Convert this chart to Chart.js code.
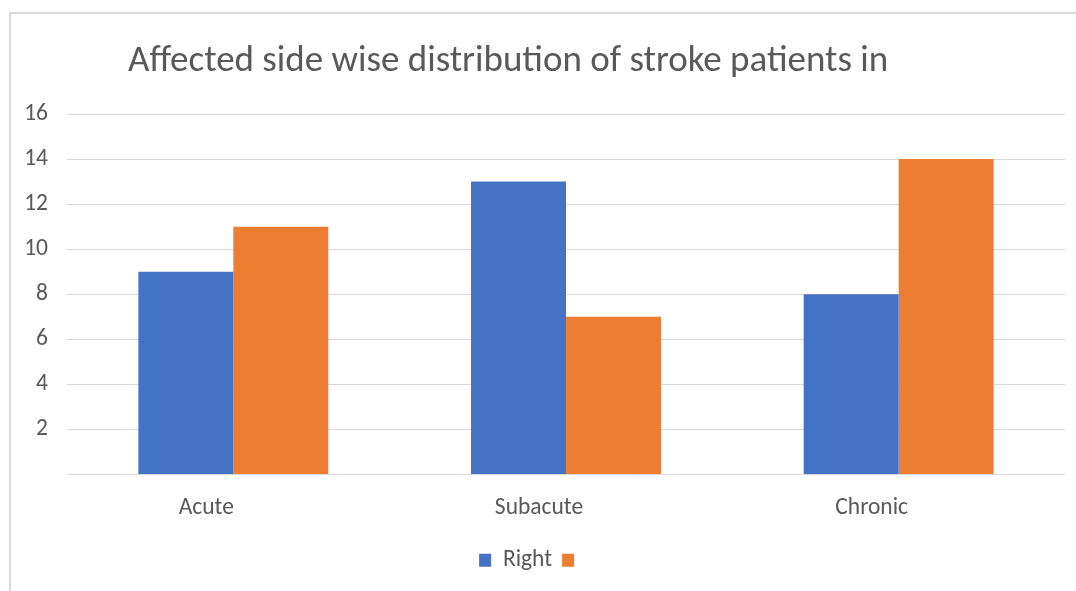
<!DOCTYPE html>
<html>
<head>
<meta charset="utf-8">
<script src="https://cdn.jsdelivr.net/npm/chart.js"></script>
<style>
  body { margin: 0; background: #fff; }
  #frame { position: absolute; left: 9px; top: 12px; width: 1100px; height: 600px; border-left: 2px solid #d9d9d9; border-top: 2px solid #d9d9d9; }
  #wrap { position: absolute; left: 0; top: 0; width: 1076px; height: 591px; }
</style>
</head>
<body>
<div id="frame"></div>
<div id="wrap"><canvas id="myChart" width="1076" height="591"></canvas></div>
<script>
const titleText = 'Affected side wise distribution of stroke patients in'
const categories = ['Acute', 'Subacute', 'Chronic']
const rightValues = [9, 13, 8]
const otherValues = [11, 7, 14]
const seriesNames = ['Right', '']
const barColors = ['#4472C4', '#ED7D31']

const fontFamily = 'Carlito, Calibri, Lato, sans-serif'
const textColor = '#595959'
const gridColor = '#d9d9d9'
const labelSize = 23.5

// title sits left of centre in the original, so draw it by hand
const titlePlugin = {
    id: 'leftTitle',
    afterDraw(chart) {
        const ctx = chart.ctx
        ctx.save()
        ctx.font = '37px ' + fontFamily
        ctx.fillStyle = textColor
        ctx.textBaseline = 'alphabetic'
        ctx.fillText(titleText, 128, 71)
        ctx.restore()
    }
}

new Chart('myChart', {
    type: 'bar',
    data: {
        labels: categories,
        datasets: [{
            label: seriesNames[0],
            data: rightValues,
            backgroundColor: barColors[0]
        }, {
            label: seriesNames[1],
            data: otherValues,
            backgroundColor: barColors[1]
        }]
    },
    options: {
        responsive: false,
        animation: false,
        layout: { padding: { left: 0, right: 11, top: 114, bottom: 9 } },
        datasets: {
            bar: { categoryPercentage: 0.571, barPercentage: 1 }
        },
        scales: {
            x: {
                grid: { display: false },
                border: { display: false },
                ticks: {
                    color: textColor,
                    font: { family: fontFamily, size: labelSize },
                    padding: 12,
                    labelOffset: -27
                },
                afterFit(scale) { scale.height = 64 }
            },
            y: {
                min: 0,
                max: 16,
                grid: { color: gridColor, lineWidth: 1, drawTicks: false },
                border: { display: false },
                ticks: {
                    stepSize: 2,
                    color: textColor,
                    font: { family: fontFamily, size: labelSize },
                    padding: 19,
                    callback: v => v === 0 ? '' : v
                },
                afterFit(scale) { scale.width = 67 }
            }
        },
        plugins: {
            title: { display: false },
            tooltip: { enabled: false },
            legend: {
                position: 'bottom',
                labels: {
                    color: textColor,
                    font: { family: fontFamily, size: labelSize },
                    boxWidth: 12,
                    boxHeight: 13,
                    padding: 10
                }
            }
        }
    },
    plugins: [titlePlugin]
})
</script>
</body>
</html>
